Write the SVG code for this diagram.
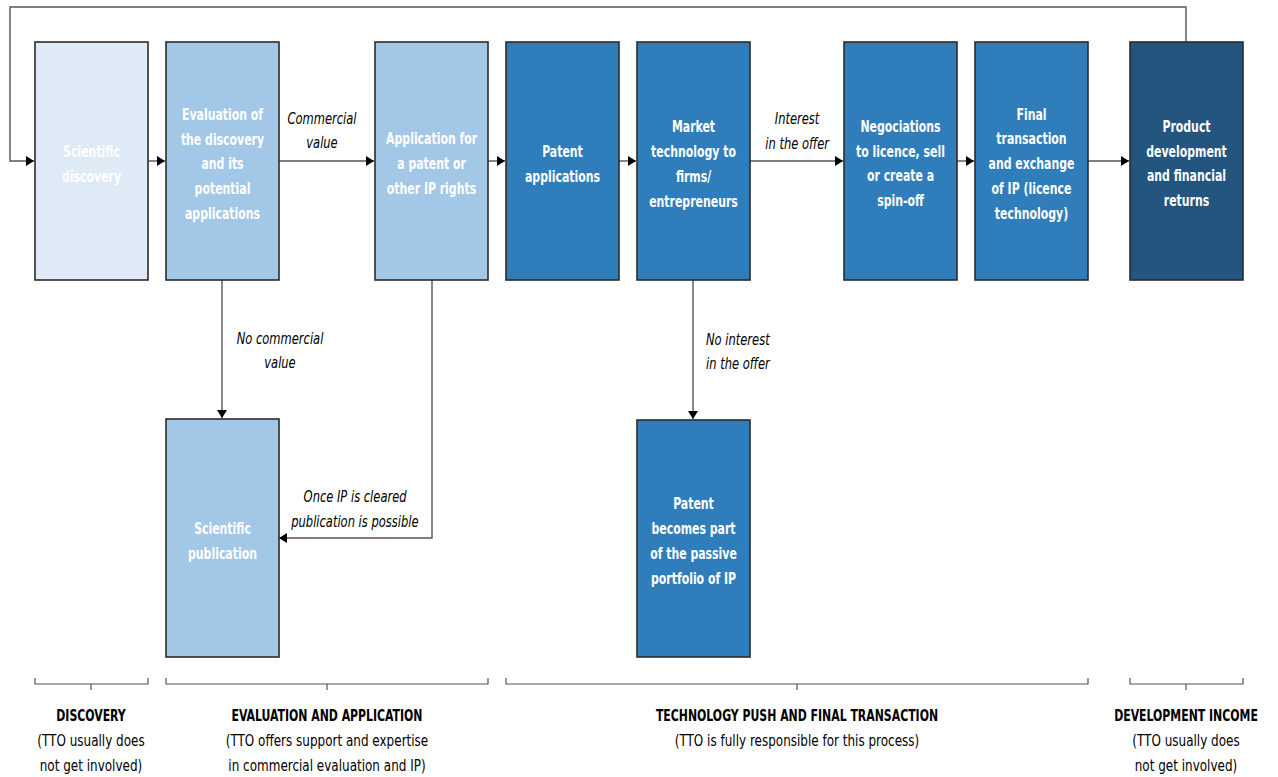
<svg xmlns="http://www.w3.org/2000/svg" width="1278" height="777" viewBox="0 0 1278 777">
<style>
text{font-family:"DejaVu Sans Condensed","Liberation Sans Narrow","Liberation Sans",sans-serif;transform-box:fill-box;transform-origin:center}
.box{stroke:#2b2b2b;stroke-width:1.6}
.c1{fill:#deeaf6}
.c2{fill:#a3c7e7}
.c3{fill:#307dbb}
.c4{fill:#23557f}
.bt{fill:#fff;font-size:15px;font-weight:bold;text-anchor:middle;transform:scaleX(.81)}
.ln{fill:none;stroke:#555;stroke-width:1.4}
.lb{fill:#000;font-size:16px;font-style:italic;text-anchor:middle;transform:scaleX(.8)}
.lbs{fill:#000;font-size:16px;font-style:italic;transform-origin:left;transform:scaleX(.8)}
.br{fill:none;stroke:#555;stroke-width:1.2}
.h{fill:#000;font-size:15px;font-weight:bold;text-anchor:middle;transform:scaleX(.81)}
.s{fill:#000;font-size:15px;text-anchor:middle;transform:scaleX(.89)}
</style>
<defs>
<marker id="ah" markerUnits="userSpaceOnUse" markerWidth="10" markerHeight="12" refX="8" refY="5.5" orient="auto">
<path d="M0,0.5 L8,5.5 L0,10.5 Z" fill="#000"/>
</marker>
</defs>
<g id="connectors">
<path class="ln" d="M1186,42 V7 H10 V161 H34" marker-end="url(#ah)"/>
<path class="ln" d="M148,161 H165" marker-end="url(#ah)"/>
<path class="ln" d="M279,161 H374" marker-end="url(#ah)"/>
<path class="ln" d="M488,161 H505" marker-end="url(#ah)"/>
<path class="ln" d="M619,161 H636" marker-end="url(#ah)"/>
<path class="ln" d="M750,161 H843" marker-end="url(#ah)"/>
<path class="ln" d="M957,161 H974" marker-end="url(#ah)"/>
<path class="ln" d="M1088,161 H1129" marker-end="url(#ah)"/>
<path class="ln" d="M222,280 V418" marker-end="url(#ah)"/>
<path class="ln" d="M432,280 V538 H279" marker-end="url(#ah)"/>
<path class="ln" d="M693,280 V419" marker-end="url(#ah)"/>
<text class="lb" x="322" y="124">Commercial</text>
<text class="lb" x="322" y="148">value</text>
<text class="lb" x="797" y="124">Interest</text>
<text class="lb" x="797" y="149">in the offer</text>
<text class="lb" x="280" y="344">No commercial</text>
<text class="lb" x="280" y="368">value</text>
<text class="lb" x="355" y="502">Once IP is cleared</text>
<text class="lb" x="355" y="527">publication is possible</text>
<text class="lbs" x="706" y="345">No interest</text>
<text class="lbs" x="706" y="369">in the offer</text>
</g>
<g id="n1"><rect class="box c1" x="35" y="42" width="113" height="238"/>
<text class="bt" x="91.5" y="157">Scientific</text><text class="bt" x="91.5" y="182">discovery</text></g>
<g id="n2"><rect class="box c2" x="166" y="42" width="113" height="238"/>
<text class="bt" x="222.5" y="120">Evaluation of</text><text class="bt" x="222.5" y="145">the discovery</text><text class="bt" x="222.5" y="169">and its</text><text class="bt" x="222.5" y="194">potential</text><text class="bt" x="222.5" y="219">applications</text></g>
<g id="n3"><rect class="box c2" x="375" y="42" width="113" height="238"/>
<text class="bt" x="431.5" y="144">Application for</text><text class="bt" x="431.5" y="169">a patent or</text><text class="bt" x="431.5" y="194">other IP rights</text></g>
<g id="n4"><rect class="box c3" x="506" y="42" width="113" height="238"/>
<text class="bt" x="562.5" y="157">Patent</text><text class="bt" x="562.5" y="182">applications</text></g>
<g id="n5"><rect class="box c3" x="637" y="42" width="113" height="238"/>
<text class="bt" x="693.5" y="132">Market</text><text class="bt" x="693.5" y="157">technology to</text><text class="bt" x="693.5" y="182">firms/</text><text class="bt" x="693.5" y="207">entrepreneurs</text></g>
<g id="n6"><rect class="box c3" x="844" y="42" width="113" height="238"/>
<text class="bt" x="900.5" y="132">Negociations</text><text class="bt" x="900.5" y="157">to licence, sell</text><text class="bt" x="900.5" y="181">or create a</text><text class="bt" x="900.5" y="206">spin-off</text></g>
<g id="n7"><rect class="box c3" x="975" y="42" width="113" height="238"/>
<text class="bt" x="1031.5" y="120">Final</text><text class="bt" x="1031.5" y="144">transaction</text><text class="bt" x="1031.5" y="169">and exchange</text><text class="bt" x="1031.5" y="194">of IP (licence</text><text class="bt" x="1031.5" y="219">technology)</text></g>
<g id="n8"><rect class="box c4" x="1130" y="42" width="113" height="238"/>
<text class="bt" x="1186.5" y="132">Product</text><text class="bt" x="1186.5" y="157">development</text><text class="bt" x="1186.5" y="181">and financial</text><text class="bt" x="1186.5" y="206">returns</text></g>
<g id="n9"><rect class="box c2" x="166" y="419" width="113" height="238"/>
<text class="bt" x="222.5" y="534">Scientific</text><text class="bt" x="222.5" y="559">publication</text></g>
<g id="n10"><rect class="box c3" x="637" y="420" width="113" height="237"/>
<text class="bt" x="693.5" y="509">Patent</text><text class="bt" x="693.5" y="534">becomes part</text><text class="bt" x="693.5" y="559">of the passive</text><text class="bt" x="693.5" y="584">portfolio of IP</text></g>
<g id="phases">
<path class="br" d="M35,678 V684 H148 V678 M91,684 V690"/>
<path class="br" d="M166,678 V684 H488 V678 M327,684 V690"/>
<path class="br" d="M506,678 V684 H1088 V678 M797,684 V690"/>
<path class="br" d="M1130,678 V684 H1243 V678 M1186,684 V690"/>
<text class="h" x="91" y="721">DISCOVERY</text>
<text class="s" x="91" y="746">(TTO usually does</text>
<text class="s" x="91" y="771">not get involved)</text>
<text class="h" x="327" y="721">EVALUATION AND APPLICATION</text>
<text class="s" x="327" y="746">(TTO offers support and expertise</text>
<text class="s" x="327" y="771">in commercial evaluation and IP)</text>
<text class="h" x="797" y="721">TECHNOLOGY PUSH AND FINAL TRANSACTION</text>
<text class="s" x="797" y="746">(TTO is fully responsible for this process)</text>
<text class="h" x="1186" y="721">DEVELOPMENT INCOME</text>
<text class="s" x="1186" y="746">(TTO usually does</text>
<text class="s" x="1186" y="771">not get involved)</text>
</g>
</svg>
